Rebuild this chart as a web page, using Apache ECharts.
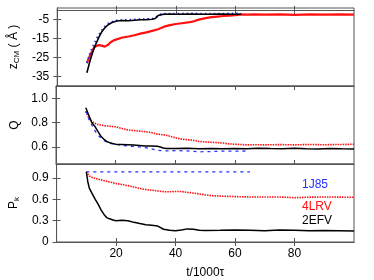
<!DOCTYPE html>
<html><head><meta charset="utf-8">
<script src="https://cdn.jsdelivr.net/npm/echarts@6/dist/echarts.min.js"></script>
<style>html,body{margin:0;padding:0;background:#fff}#c{width:374px;height:280px}</style>
</head><body><div id="c"></div>
<script>
// ---- data ----
const xTicks = [20, 40, 60, 80];
const zTicks = [-35, -25, -15, -5];
const qTicks = [0.6, 0.8, 1.0];
const pTicks = [0, 0.3, 0.6, 0.9];

// panel 1: z_CM
const tZ_2EFV = [10,11,12,13,14,15,16,17,18,19,20,22,24,26,28,30,32,33,34,35,36,38,40,45,50,55,60,62];
const z_2EFV  = [-33,-27,-22,-18,-14.5,-11.5,-9.5,-8,-7,-6.3,-5.8,-5.6,-5.7,-5.4,-5.2,-5.1,-4.9,-4.5,-3,-2.5,-2.3,-2.2,-2.3,-2.2,-2.3,-2.2,-2.3,-2.3];
const tZ_1J85 = [10,11,12,13,14,15,16,17,18,20,22,24,26,28,30,32,33,34,35,36,40,45,50,55,60,62];
const z_1J85  = [-28,-23,-19.3,-16,-13,-10.8,-8.8,-7.4,-6.5,-5.6,-5.3,-5.2,-5.0,-4.9,-4.8,-4.7,-4.2,-3,-2.3,-2.0,-2.0,-1.9,-2.0,-2.0,-1.9,-2.0];
const tZ_4LRV = [10,11,12,12.5,13,14,15,16,17,18,19,20,22,24,26,28,30,32,34,36,38,40,42,44,46,48,50,52,54,56,58,60,62,64,66,70,75,80,85,90,95,100];
const z_4LRV  = [-28,-24,-21,-19.5,-19,-18.5,-18.8,-19.3,-18.5,-17,-16,-15.5,-14.5,-14,-13.3,-12.5,-11.8,-11,-10.2,-8.8,-8,-7.4,-7,-6.6,-6,-5,-4.3,-3.8,-3.5,-3.2,-3,-2.7,-2.4,-2.5,-2.3,-2.5,-2.4,-2.6,-2.4,-2.5,-2.4,-2.5];

// panel 2: Q
const tQ_2EFV = [10,11,12,13,14,15,16,17,18,19,20,22,24,26,28,30,32,34,35,36,37,38,40,44,48,52,56,60,64,68,72,76,80,84,88,92,96,100];
const q_2EFV  = [0.922,0.86,0.80,0.77,0.73,0.69,0.665,0.645,0.635,0.628,0.622,0.62,0.618,0.615,0.612,0.608,0.607,0.606,0.60,0.592,0.588,0.587,0.588,0.59,0.586,0.588,0.585,0.588,0.586,0.59,0.587,0.585,0.589,0.586,0.584,0.588,0.585,0.584];
const tQ_4LRV = [10,11,12,13,14,15,16,18,20,22,24,26,28,30,32,34,36,38,40,42,44,46,48,50,52,54,56,58,60,62,64,66,70,75,80,85,90,95,100];
const q_4LRV  = [0.89,0.84,0.81,0.795,0.785,0.78,0.775,0.77,0.765,0.752,0.74,0.735,0.73,0.725,0.718,0.705,0.70,0.69,0.675,0.665,0.66,0.655,0.645,0.642,0.638,0.635,0.632,0.625,0.622,0.62,0.617,0.618,0.617,0.619,0.617,0.62,0.618,0.62,0.622];
const tQ_1J85 = [10,11,12,13,14,15,16,17,18,20,22,24,26,28,30,32,34,36,38,40,44,48,52,56,60,64];
const q_1J85  = [0.895,0.83,0.78,0.735,0.70,0.675,0.655,0.64,0.63,0.62,0.612,0.608,0.604,0.60,0.594,0.585,0.572,0.568,0.567,0.57,0.567,0.56,0.562,0.566,0.565,0.567];

// panel 3: P_k
const tP_2EFV = [10,10.5,11,12,13,14,15,16,17,18,19,20,22,24,26,28,30,32,34,36,38,40,42,44,46,48,50,55,60,65,70,75,80,85,90,95,100];
const p_2EFV  = [0.99,0.85,0.76,0.68,0.60,0.53,0.45,0.385,0.34,0.325,0.31,0.30,0.305,0.30,0.277,0.26,0.244,0.235,0.225,0.18,0.165,0.16,0.17,0.185,0.18,0.165,0.163,0.165,0.17,0.165,0.16,0.168,0.165,0.16,0.163,0.16,0.155];
const tP_4LRV = [10,11,12,14,16,18,20,22,24,26,28,30,32,34,36,38,40,42,44,46,48,50,52,54,56,58,60,65,70,75,80,85,90,95,100];
const p_4LRV  = [0.99,0.93,0.91,0.885,0.865,0.845,0.825,0.81,0.795,0.775,0.755,0.74,0.73,0.72,0.71,0.708,0.713,0.712,0.70,0.69,0.677,0.665,0.655,0.65,0.645,0.643,0.64,0.635,0.635,0.635,0.625,0.632,0.635,0.633,0.63];
const tP_1J85 = [10,65];
const p_1J85  = [0.99,0.99];

const legendNames = ['1J85','4LRV','2EFV'];
const colors = {'1J85':'#2233ff','4LRV':'#ff1010','2EFV':'#000000'};

// ---- chart ----
const zip = (a,b) => a.map((v,i)=>[v,b[i]]);
const font = 'Liberation Sans, Arial, sans-serif';
const axisCol = '#555';
const grids = [
  {left:56, right:20, top:8, height:78},
  {left:56, right:20, top:86, height:78},
  {left:56, right:20, top:164, height:78}
].map(g=>Object.assign(g,{show:true,borderColor:axisCol,borderWidth:1,containLabel:false}));

const xAxes = [], yAxes = [];
for (let i=0;i<3;i++){
  const bottom = {type:'value', gridIndex:i, position:'bottom', min:0, max:100,
    axisLine:{show:true,lineStyle:{color:axisCol}},
    axisTick:{show:true,inside:true,length:4,customValues:xTicks,lineStyle:{color:axisCol}},
    axisLabel:{show:i===2,customValues:xTicks,color:'#000',fontSize:12,fontFamily:font,margin:6},
    splitLine:{show:false}};
  if (i===2){
    bottom.name='t/1000τ'; bottom.nameLocation='middle'; bottom.nameGap=25;
    bottom.nameTextStyle={color:'#000',fontSize:12,fontFamily:font};
  }
  xAxes.push(bottom);
  xAxes.push({type:'value', gridIndex:i, position:'top', min:0, max:100,
    axisLine:{show:true,lineStyle:{color:axisCol}},
    axisTick:{show:true,inside:true,length:4,customValues:xTicks,lineStyle:{color:axisCol}},
    axisLabel:{show:false}, splitLine:{show:false}});
}
const yCfg = [
  {min:-40,max:1,ticks:zTicks,name:'{n|z}{s|CM}{n| ( Å )}',gap:30,fmt:v=>String(v)},
  {min:0.46,max:1.1,ticks:qTicks,name:'{n|Q}',gap:32,fmt:v=>v.toFixed(1)},
  {min:0,max:1.1,ticks:pTicks,name:'{n|P}{s|k}',gap:32,fmt:v=>v===0?'0':v.toFixed(1)}
];
yCfg.forEach((c,i)=>{
  yAxes.push({type:'value', gridIndex:i, position:'left', min:c.min, max:c.max,
    axisLine:{show:true,lineStyle:{color:axisCol}},
    axisTick:{show:true,inside:true,length:4,customValues:c.ticks,lineStyle:{color:axisCol}},
    axisLabel:{show:true,customValues:c.ticks,formatter:c.fmt,color:'#000',fontSize:12,fontFamily:font,margin:8},
    splitLine:{show:false},
    name:c.name, nameLocation:'middle', nameGap:c.gap, nameRotate:90,
    nameTextStyle:{rich:{n:{fontSize:12,fontFamily:font,color:'#000'},s:{fontSize:8,fontFamily:font,color:'#000',padding:[6,0,0,0]}}}
  });
  yAxes.push({type:'value', gridIndex:i, position:'right', min:c.min, max:c.max,
    axisLine:{show:true,lineStyle:{color:axisCol}},
    axisTick:{show:true,inside:true,length:4,customValues:c.ticks,lineStyle:{color:axisCol}},
    axisLabel:{show:false}, splitLine:{show:false}});
});

function ser(g, name, t, v, style){
  return {type:'line', xAxisIndex:g*2, yAxisIndex:g*2, data:zip(t,v), showSymbol:false,
    symbol:'none', animation:false, silent:true, lineStyle:Object.assign({color:colors[name]},style)};
}
const series = [
  ser(0,'4LRV',tZ_4LRV,z_4LRV,{width:2.2,type:'solid'}),
  ser(0,'1J85',tZ_1J85,z_1J85,{width:2,type:[1.5,3]}),
  ser(0,'2EFV',tZ_2EFV,z_2EFV,{width:1.6}),
  ser(1,'4LRV',tQ_4LRV,q_4LRV,{width:1.6,type:[1.5,1]}),
  ser(1,'1J85',tQ_1J85,q_1J85,{width:1.3,type:[3,4]}),
  ser(1,'2EFV',tQ_2EFV,q_2EFV,{width:1.5}),
  ser(2,'4LRV',tP_4LRV,p_4LRV,{width:1.6,type:[1.5,1]}),
  ser(2,'1J85',tP_1J85,p_1J85,{width:1.3,type:[3,4]}),
  ser(2,'2EFV',tP_2EFV,p_2EFV,{width:1.5})
];

const legendY = [186, 208, 222];
const graphic = legendNames.map((n,i)=>({type:'text', left:302, top:legendY[i]-7,
  style:{text:n, fill:colors[n], font:'12px '+font}}));

const chart = echarts.init(document.getElementById('c'), null, {renderer:'canvas'});
chart.setOption({animation:false, backgroundColor:'#fff', grid:grids, xAxis:xAxes, yAxis:yAxes, series, graphic});
</script></body></html>
